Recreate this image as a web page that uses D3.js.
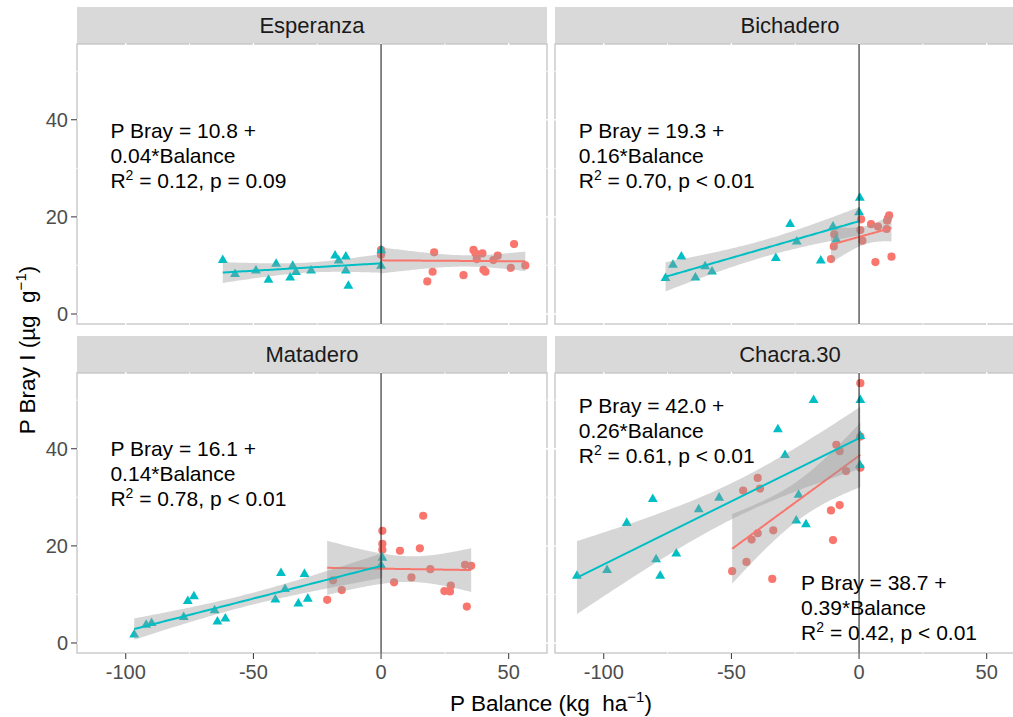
<!DOCTYPE html>
<html>
<head>
<meta charset="utf-8">
<script src="https://cdn.jsdelivr.net/npm/d3@7"></script>
<style>
  body { margin: 0; background: #fff; }
  svg { display: block; font-family: "Liberation Sans", Arial, sans-serif; }
  .title { white-space: pre; }
</style>
</head>
<body>
<div id="container"></div>
<script>
// facets, in reading order
var sites = ["Esperanza", "Bichadero", "Matadero", "Chacra.30"];

// triangles (teal) and dots (red), [balance, P Bray]
var esperanzaTri = [[-62.0, 11.1], [-57.2, 8.2], [-49.0, 8.9], [-44.1, 7.0], [-41.1, 10.3], [-35.6, 7.5],
    [-34.6, 9.9], [-33.3, 8.6], [-27.4, 8.9], [-18.0, 12.0], [-16.6, 11.0], [-13.8, 11.8], [-13.8, 8.9],
    [-12.8, 5.8], [0.1, 13.1], [0, 9.9]];
var esperanzaDot = [[0, 13.2], [0, 12.2], [20.8, 12.7], [20.2, 8.7], [18.1, 6.7], [32.3, 8.0], [36.2, 13.2],
    [37.0, 12.5], [37.5, 11.3], [39.7, 12.5], [40.1, 9.1], [40.9, 8.7], [44.0, 11.1], [45.7, 12.0],
    [50.8, 9.5], [52.1, 14.4], [56.5, 10.0]];

var bichaderoTri = [[-75.8, 7.4], [-72.9, 10.1], [-69.6, 11.8], [-64.1, 7.5], [-60.3, 9.8], [-57.6, 8.7],
    [-32.6, 11.5], [-27.0, 18.5], [-24.4, 14.9], [-15.0, 11.0], [-10.2, 18.0], [-8.9, 15.3], [0.3, 23.9],
    [0, 20.9]];
var bichaderoDot = [[-11.0, 11.3], [-9.9, 13.9], [-9.7, 16.4], [0.8, 19.5], [0.5, 17.3], [1.3, 15.1],
    [4.7, 18.5], [6.4, 10.7], [7.4, 18.0], [10.8, 17.5], [11.3, 19.7], [11.8, 20.3], [11.0, 19.2],
    [12.7, 11.8]];

var mataderoTri = [[-96.7, 1.7], [-92.0, 3.7], [-89.9, 4.1], [-77.3, 5.3], [-75.7, 8.6], [-73.3, 9.6],
    [-65.2, 6.7], [-64.1, 4.4], [-61.0, 5.0], [-41.4, 8.9], [-39.2, 14.4], [-37.6, 11.1], [-32.4, 8.1],
    [-30.0, 14.2], [-28.7, 9.1], [0.5, 17.5], [0, 16.0]];
var mataderoDot = [[-21.1, 8.9], [-18.8, 12.9], [-15.4, 10.9], [0.5, 23.1], [0.5, 20.4], [0.5, 19.2],
    [5.1, 12.5], [7.4, 19.0], [11.9, 13.5], [15.2, 19.5], [16.5, 26.2], [19.3, 15.2], [24.8, 10.7],
    [27.0, 10.6], [27.3, 11.8], [32.9, 16.1], [35.3, 15.9], [33.6, 7.5]];

var chacraTri = [[-110.5, 13.8], [-98.7, 15.0], [-91.0, 24.7], [-80.8, 29.6], [-79.5, 17.2], [-77.9, 13.8],
    [-71.6, 18.4], [-62.8, 27.5], [-54.8, 29.9], [-31.8, 44.0], [-29.0, 38.7], [-24.6, 25.2], [-23.7, 30.5],
    [-20.8, 24.4], [-17.8, 50.0], [0.5, 50.0], [0.5, 42.6], [0.3, 36.6]];
var chacraDot = [[-49.7, 14.8], [-44.1, 16.7], [-45.4, 31.4], [-42.1, 21.3], [-39.7, 22.6], [-39.7, 34.0],
    [-38.8, 31.8], [-34.0, 13.2], [-33.6, 23.2], [-11.0, 27.3], [-7.6, 28.4], [-10.2, 21.2], [-8.9, 40.8],
    [-7.6, 39.5], [-5.1, 35.4], [0.5, 53.5], [0.5, 42.5], [0.5, 36.1]];

var triData = [esperanzaTri, bichaderoTri, mataderoTri, chacraTri];
var dotData = [esperanzaDot, bichaderoDot, mataderoDot, chacraDot];

// equation labels: [line1, line2, R2 value, p text]
var esperanzaEq = [["P Bray = 10.8 +", "0.04*Balance", "0.12", "p = 0.09"]];
var bichaderoEq = [["P Bray = 19.3 +", "0.16*Balance", "0.70", "p < 0.01"]];
var mataderoEq = [["P Bray = 16.1 +", "0.14*Balance", "0.78", "p < 0.01"]];
var chacraEq = [["P Bray = 42.0 +", "0.26*Balance", "0.61", "p < 0.01"],
    ["P Bray = 38.7 +", "0.39*Balance", "0.42", "p < 0.01"]];
var eqData = [esperanzaEq, bichaderoEq, mataderoEq, chacraEq];
// where each label starts (data units)
var eqPos = [[[-106, 36.2]], [[-109.8, 36.2]], [[-106, 38.6]], [[-109.8, 47.4], [-22.7, 10.9]]];

var xTicks = [-100, -50, 0, 50];
var yTicks = [0, 20, 40];

var width = 1013, height = 717;
var teal = "#00BFC4", red = "#F8766D";

var panelW = 470, panelH = 280;
var colX = [77, 555];
var rowY = [44, 373];
var stripH = 37;

var svg = d3.select("#container").append("svg")
    .attr("width", width)
    .attr("height", height);

var x = d3.scaleLinear().domain([-119.1, 65.0]).range([0, panelW]);
var y = d3.scaleLinear().domain([-2.06, 55.6]).range([panelH, 0]);

// rough t quantile (0.975)
function tq(df) {
    var z = 1.959964;
    return z + (z * z * z + z) / (4 * df) + (5 * Math.pow(z, 5) + 16 * z * z * z + 3 * z) / (96 * df * df);
}

function fitLm(pts) {
    var n = pts.length;
    var xm = d3.mean(pts, d => d[0]), ym = d3.mean(pts, d => d[1]);
    var sxx = d3.sum(pts, d => (d[0] - xm) * (d[0] - xm));
    var sxy = d3.sum(pts, d => (d[0] - xm) * (d[1] - ym));
    var b = sxy / sxx, a = ym - b * xm;
    var rss = d3.sum(pts, d => Math.pow(d[1] - a - b * d[0], 2));
    var s = Math.sqrt(rss / (n - 2));
    var t = tq(n - 2);
    var ext = d3.extent(pts, d => d[0]);
    var grid = d3.range(0, 81).map(i => ext[0] + (ext[1] - ext[0]) * i / 80);
    return grid.map(function (gx) {
        var fit = a + b * gx;
        var se = s * Math.sqrt(1 / n + (gx - xm) * (gx - xm) / sxx);
        return { x: gx, y: fit, lo: fit - t * se, hi: fit + t * se };
    });
}

var tri = d3.symbol().type(d3.symbolTriangle).size(42);

sites.forEach(function (site, i) {
    var col = i % 2, row = Math.floor(i / 2);
    var g = svg.append("g").attr("transform", "translate(" + colX[col] + "," + rowY[row] + ")");

    // strip
    g.append("rect")
        .attr("x", 0).attr("y", -stripH)
        .attr("width", panelW).attr("height", stripH)
        .attr("fill", "#d9d9d9");
    g.append("text")
        .attr("x", panelW / 2).attr("y", -stripH / 2)
        .attr("dy", "0.36em")
        .attr("text-anchor", "middle")
        .attr("font-size", 22)
        .attr("fill", "#1a1a1a")
        .text(site);

    // panel background with border, then white grid over it
    g.append("rect")
        .attr("width", panelW).attr("height", panelH)
        .attr("fill", "#fff")
        .attr("stroke", "#c4c4c4")
        .attr("stroke-width", 1.3);
    var minorX = [-75, -25, 25];
    var minorY = [10, 30, 50];
    g.selectAll(".gx").data(xTicks.concat(minorX)).enter().append("line")
        .attr("x1", d => x(d)).attr("x2", d => x(d))
        .attr("y1", -1).attr("y2", panelH + 1)
        .attr("stroke", "#fff").attr("stroke-width", d => xTicks.includes(d) ? 1.4 : 0.8);
    g.selectAll(".gy").data(yTicks.concat(minorY)).enter().append("line")
        .attr("x1", -1).attr("x2", panelW + 1)
        .attr("y1", d => y(d)).attr("y2", d => y(d))
        .attr("stroke", "#fff").attr("stroke-width", d => yTicks.includes(d) ? 1.4 : 0.8);

    // points
    g.selectAll(".dot").data(dotData[i]).enter().append("circle")
        .attr("cx", d => x(d[0])).attr("cy", d => y(d[1]))
        .attr("r", 4.1)
        .attr("fill", red);
    g.selectAll(".tri").data(triData[i]).enter().append("path")
        .attr("d", tri)
        .attr("transform", d => "translate(" + x(d[0]) + "," + y(d[1]) + ")")
        .attr("fill", teal);

    // smooths: red group then teal group
    [[dotData[i], red], [triData[i], teal]].forEach(function (s) {
        var band = fitLm(s[0]);
        g.append("path")
            .datum(band)
            .attr("d", d3.area().x(d => x(d.x)).y0(d => y(d.lo)).y1(d => y(d.hi)))
            .attr("fill", "#999999")
            .attr("fill-opacity", 0.4);
        g.append("path")
            .datum(band)
            .attr("d", d3.line().x(d => x(d.x)).y(d => y(d.y)))
            .attr("fill", "none")
            .attr("stroke", s[1])
            .attr("stroke-width", 2);
    });

    // equations
    eqData[i].forEach(function (eq, k) {
        var px = x(eqPos[i][k][0]), py = y(eqPos[i][k][1]);
        var t = g.append("text").attr("font-size", 21).attr("fill", "#000");
        t.append("tspan").attr("x", px).attr("y", py).text(eq[0]);
        t.append("tspan").attr("x", px).attr("y", py + 25).text(eq[1]);
        var t3 = g.append("text").attr("font-size", 21).attr("fill", "#000")
            .attr("x", px).attr("y", py + 50);
        t3.append("tspan").text("R");
        t3.append("tspan").attr("font-size", 14).attr("dy", -8).text("2");
        t3.append("tspan").attr("dy", 8).text(" = " + eq[2] + ", " + eq[3]);
    });

    // vertical reference at zero
    g.append("line")
        .attr("x1", x(0)).attr("x2", x(0))
        .attr("y1", 0).attr("y2", panelH)
        .attr("stroke", "#111").attr("stroke-width", 1);

    // axes
    if (col === 0) {
        g.selectAll(".yt").data(yTicks).enter().append("line")
            .attr("x1", -6).attr("x2", 0)
            .attr("y1", d => y(d)).attr("y2", d => y(d))
            .attr("stroke", "#333").attr("stroke-width", 1);
        g.selectAll(".yl").data(yTicks).enter().append("text")
            .attr("x", -9).attr("y", d => y(d))
            .attr("dy", "0.36em")
            .attr("text-anchor", "end")
            .attr("font-size", 20)
            .attr("fill", "#4d4d4d")
            .text(d => d);
    }
    if (row === 1) {
        g.selectAll(".xt").data(xTicks).enter().append("line")
            .attr("x1", d => x(d)).attr("x2", d => x(d))
            .attr("y1", panelH).attr("y2", panelH + 6)
            .attr("stroke", "#333").attr("stroke-width", 1);
        g.selectAll(".xl").data(xTicks).enter().append("text")
            .attr("x", d => x(d)).attr("y", panelH + 26)
            .attr("text-anchor", "middle")
            .attr("font-size", 20)
            .attr("fill", "#4d4d4d")
            .text(d => String(d));
    }
});

// axis titles
var xt = svg.append("text")
    .attr("class", "title")
    .attr("x", (colX[0] + colX[1] + panelW) / 2).attr("y", 711)
    .attr("text-anchor", "middle")
    .attr("font-size", 22.5)
    .attr("fill", "#000");
xt.append("tspan").text("P Balance (kg  ha");
xt.append("tspan").attr("font-size", 15).attr("dy", -9).text("\u22121");
xt.append("tspan").attr("dy", 9).text(")");

var yt = svg.append("text")
    .attr("class", "title")
    .attr("transform", "translate(35,350) rotate(-90)")
    .attr("text-anchor", "middle")
    .attr("font-size", 22.5)
    .attr("fill", "#000");
yt.append("tspan").text("P Bray I (\u00b5g  g");
yt.append("tspan").attr("font-size", 15).attr("dy", -9).text("\u22121");
yt.append("tspan").attr("dy", 9).text(")");
</script>
</body>
</html>
